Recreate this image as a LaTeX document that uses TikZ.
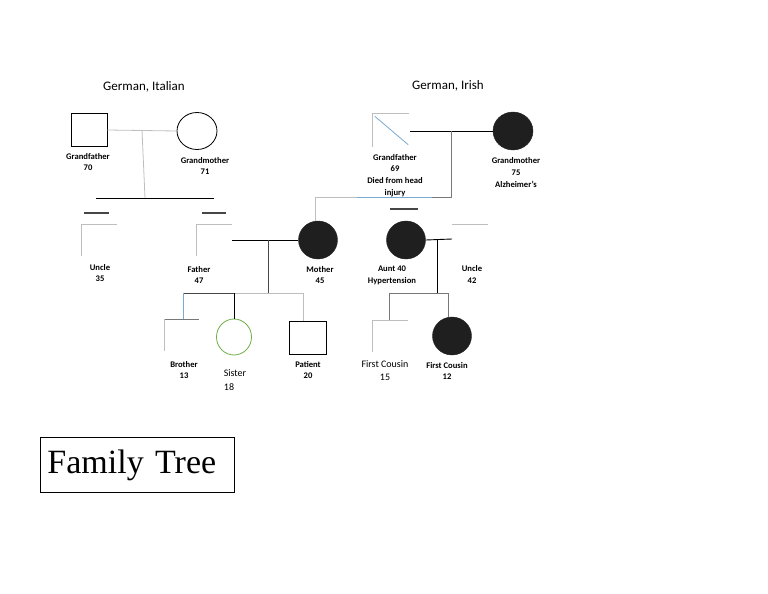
\documentclass[tikz,border=0pt]{standalone}
\usepackage{fontspec}
\setmainfont{Carlito}
\newfontfamily\tnr{Liberation Serif}
\usetikzlibrary{shapes.geometric}
\definecolor{lg}{RGB}{190,190,190}
\definecolor{mg}{RGB}{120,120,120}
\definecolor{dg}{RGB}{70,70,70}
\definecolor{lb}{RGB}{120,170,210}
\definecolor{sgreen}{RGB}{112,173,71}
\begin{document}
\begin{tikzpicture}[x=1pt,y=-1pt,
  sq/.style={draw,line width=0.8pt,minimum width=36pt,minimum height=33pt,inner sep=0pt},
  fsq/.style={minimum width=35pt,minimum height=31pt,inner sep=0pt},
  fcirc/.style={ellipse,fill=black!88,draw=black!88,minimum width=39pt,minimum height=38pt,inner sep=0pt},
  ocirc/.style={ellipse,draw,line width=0.8pt,minimum width=40pt,minimum height=37pt,inner sep=0pt},
  lbl/.style={font=\fontsize{8.6}{11.8}\selectfont\bfseries,align=center,inner sep=0pt},
  rlbl/.style={font=\fontsize{10}{13}\selectfont,align=center,inner sep=0pt},
  hdr/.style={font=\fontsize{13}{15}\selectfont,inner sep=0pt},
  gline/.style={draw=mg,line width=0.8pt},
  lline/.style={draw=lg,line width=0.8pt},
  bline/.style={draw=black,line width=0.9pt},
  dline/.style={draw=dg,line width=1.2pt},
  bluel/.style={draw=lb,line width=0.8pt}]
\useasboundingbox (0,0) rectangle (768,594);

% headers
\node[hdr] (h1) at (144,87) {German, Italian};
\node[hdr] (h2) at (448,86) {German, Irish};

% paternal grandparents
\node[sq] (gf1) at (89,130) {};
\node[ocirc] (gm1) at (197,131) {};
\coordinate (m1) at (142,130);
\coordinate (s1) at (145,198);
\coordinate (s1L) at (96,198);
\coordinate (s1R) at (214,198);
\draw[lline] (gf1.east) -- (gm1.west);
\draw[lline] (m1) -- (s1);
\draw[bline] (s1L) -- (s1R);
\node[lbl] (lgf1) at (88,162) {Grandfather\\70};
\node[lbl] (lgm1) at (205,166) {Grandmother\\71};

% short dashes
\coordinate (d1a) at (84,213); \coordinate (d1b) at (109,213);
\coordinate (d2a) at (202,213); \coordinate (d2b) at (226,213);
\coordinate (d3a) at (390,209); \coordinate (d3b) at (418,209);
\draw[dline] (d1a) -- (d1b);
\draw[dline] (d2a) -- (d2b);
\draw[dline] (d3a) -- (d3b);

% uncle left
\node[fsq] (unc1) at (99.5,240) {};
\draw[lline] (unc1.south west) -- (unc1.north west) -- (unc1.north east);
\node[lbl] (lunc1) at (100,273) {Uncle\\35};

% father
\node[fsq] (fa) at (214.5,240) {};
\draw[lline] (fa.south west) -- (fa.north west) -- (fa.north east);
\node[lbl] (lfa) at (199,275) {Father\\47};

% mother
\node[fcirc] (mo) at (318,240) {};
\node[lbl] (lmo) at (320,275) {Mother\\45};
\draw[bline] (fa.east) -- (mo.west);

% maternal grandparents
\node[fsq,minimum width=36pt,minimum height=33pt] (gf2) at (391,130) {};
\draw[lline] (gf2.south west) -- (gf2.north west) -- (gf2.north east);
\draw[bluel] ([shift={(2,3)}]gf2.north west) -- ([shift={(-1,-2)}]gf2.south east);
\node[fcirc,minimum width=40pt] (gm2) at (513,131) {};
\coordinate (gf2e) at (410,131);
\draw[bline] (gf2e) -- (gm2.west);
\node[lbl] (lgf2) at (395,175.5) {Grandfather\\69\\Died from head\\injury};
\node[lbl] (lgm2) at (516,172.5) {Grandmother\\75\\Alzheimer's};

% link mother to maternal grandparents
\coordinate (m2) at (451,131);
\coordinate (m2b) at (451,197);
\coordinate (mo1) at (315,221);
\coordinate (mo2) at (315,197);
\coordinate (bl1) at (357,197);
\coordinate (bl2) at (432,197);
\draw[gline] (m2) -- (m2b) -- (bl2);
\draw[bluel] (bl2) -- (bl1);
\draw[lline] (bl1) -- (mo2) -- (mo1);

% aunt and uncle right
\node[fcirc] (au) at (406,240) {};
\node[lbl] (lau) at (392,275) {Aunt 40\\Hypertension};
\node[fsq] (unc2) at (470,240) {};
\draw[lline] (unc2.north west) -- (unc2.north east);
\coordinate (unc2w) at (452,239);
\draw[bline] (au.east) -- (unc2w);
\node[lbl] (lunc2) at (472,274.5) {Uncle\\42};

% cousins
\coordinate (m3) at (437,239);
\coordinate (m3b) at (437,293);
\coordinate (c1) at (389,293);
\coordinate (c2) at (448,293);
\draw[bline] (m3) -- (m3b);
\node[fsq] (cz1) at (390.5,336) {};
\node[fcirc] (cz2) at (452,336) {};
\draw[lline] (cz1.south west) -- (cz1.north west) -- (cz1.north east);
\draw[gline] (c1 |- cz1.north) -- (c1) -- (c2) -- (cz2.north -| c2);
\node[rlbl] (lcz1) at (385,370.5) {First Cousin\\15};
\node[lbl] (lcz2) at (447,371) {First Cousin\\12};

% children
\coordinate (m4) at (268,240);
\coordinate (m4b) at (268,293);
\draw[dline,line width=0.9pt] (m4) -- (m4b);
\node[fsq,minimum width=34pt] (br) at (182,335) {};
\node[ocirc,draw=sgreen,minimum width=35pt,minimum height=36pt] (si) at (234,337) {};
\node[sq,minimum width=37pt,minimum height=33pt] (pa) at (307.5,337.5) {};
\coordinate (cb) at (183,293);
\coordinate (cs) at (234,293);
\coordinate (cp) at (303,293);
\draw[lline] (br.south west) -- (br.north west);
\draw[gline] (br.north west) -- (br.north east);
\draw[dline,line width=1pt] (cb) -- (cs);
\draw[lline] (cs) -- (cp) -- (cp |- pa.north);
\draw[bluel] (cb) -- (cb |- br.north);
\draw[bline] (cs) -- (si.north);
\node[lbl] (lbr) at (184,370) {Brother\\13};
\node[rlbl] (lsi) at (235,373) {Sister};
\node[rlbl] (lsi2) at (229,387) {18};
\node[lbl] (lpa) at (308,370) {Patient\\20};

% title box
\node[draw,line width=0.8pt,anchor=north west,text width=180pt,minimum height=55pt,inner xsep=7pt,inner ysep=0pt,align=left,font=\tnr\fontsize{34}{40}\selectfont] (ft) at (40,437) {Family Tree};
\end{tikzpicture}
\end{document}
